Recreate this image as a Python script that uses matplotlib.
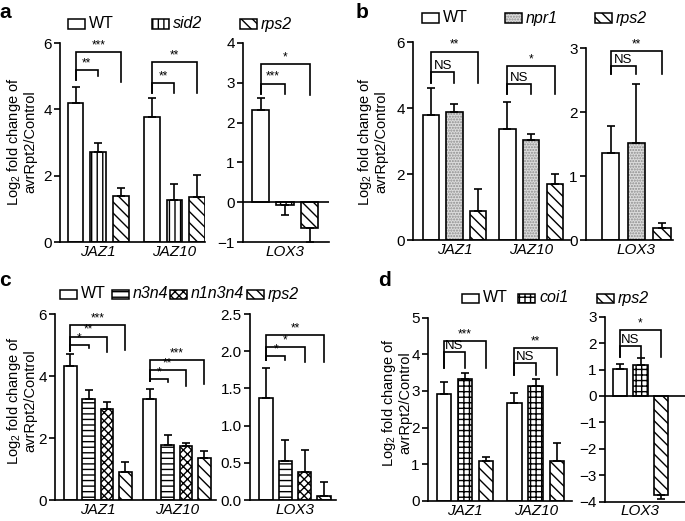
import matplotlib
matplotlib.use('Agg')
import matplotlib.pyplot as plt
from matplotlib.patches import Rectangle
import numpy as np

plt.rcParams['font.family'] = ['Liberation Sans', 'DejaVu Sans']
plt.rcParams['mathtext.fontset'] = 'custom'
plt.rcParams['mathtext.rm'] = 'Liberation Sans'
plt.rcParams['hatch.linewidth'] = 1.0
plt.rcParams['axes.linewidth'] = 1.2

W, H = 685, 521

# ---------------- data ----------------
jaz_genes = ['JAZ1', 'JAZ10']
lox_gene = ['LOX3']

# panel a
a_series = ['WT', 'sid2', 'rps2']
a_jaz_mean = [[4.20, 2.70, 1.40], [3.76, 1.27, 1.37]]
a_jaz_err = [[0.48, 0.28, 0.22], [0.59, 0.47, 0.64]]
a_lox_mean = [[2.32, -0.075, -0.64]]
a_lox_err = [[0.29, 0.235, 0.36]]
a_jaz_sig = [[(1, 5.18, 5.00, '**'), (2, 5.72, 4.82, '***')],
             [(1, 4.78, 4.48, '**'), (2, 5.42, 4.48, '**')]]
a_jaz_leg = [4.88, 4.48]
a_lox_sig = [[(1, 2.98, 2.71, '***'), (2, 3.46, 2.70, '*')]]
a_lox_leg = [2.71]

# panel b
b_series = ['WT', 'npr1', 'rps2']
b_jaz_mean = [[3.79, 3.89, 0.88], [3.35, 3.03, 1.70]]
b_jaz_err = [[0.83, 0.24, 0.67], [0.83, 0.17, 0.30]]
b_lox_mean = [[1.36, 1.52, 0.18]]
b_lox_err = [[0.42, 0.92, 0.08]]
b_jaz_sig = [[(1, 5.10, 4.77, 'NS'), (2, 5.71, 4.77, '**')],
             [(1, 4.73, 4.41, 'NS'), (2, 5.27, 4.41, '*')]]
b_jaz_leg = [4.77, 4.41]
b_lox_sig = [[(1, 2.72, 2.59, 'NS'), (2, 2.95, 2.59, '**')]]
b_lox_leg = [2.59]

# panel c
c_series = ['WT', 'n3n4', 'n1n3n4', 'rps2']
c_jaz_mean = [[4.31, 3.25, 2.93, 0.89], [3.27, 1.79, 1.73, 1.36]]
c_jaz_err = [[0.41, 0.31, 0.23, 0.34], [0.31, 0.32, 0.12, 0.22]]
c_lox_mean = [[1.37, 0.53, 0.375, 0.06]]
c_lox_err = [[0.40, 0.27, 0.295, 0.18]]
c_jaz_sig = [[(1, 5.00, 4.90, '*'), (2, 5.27, 4.77, '**'), (3, 5.63, 4.84, '***')],
             [(1, 3.89, 3.80, '*'), (2, 4.18, 3.67, '**'), (3, 4.52, 3.75, '***')]]
c_jaz_leg = [4.82, 3.83]
c_lox_sig = [[(1, 1.94, 1.88, '*'), (2, 2.06, 1.86, '*'), (3, 2.22, 1.85, '**')]]
c_lox_leg = [1.88]

# panel d
d_series = ['WT', 'coi1', 'rps2']
d_jaz_mean = [[2.91, 3.32, 1.09], [2.68, 3.12, 1.10]]
d_jaz_err = [[0.34, 0.16, 0.12], [0.26, 0.21, 0.49]]
d_lox_mean = [[1.01, 1.18, -3.75]]
d_lox_err = [[0.20, 0.25, 0.15]]
d_jaz_sig = [[(1, 4.05, 3.62, 'NS'), (2, 4.36, 3.62, '***')],
             [(1, 3.75, 3.44, 'NS'), (2, 4.16, 3.44, '**')]]
d_jaz_leg = [3.62, 3.44]
d_lox_sig = [[(1, 1.89, 1.49, 'NS'), (2, 2.50, 1.49, '*')]]
d_lox_leg = [1.49]

# ---------------- styles ----------------
styles = {
    'WT':     dict(face='white',   hatch=None,       hcol='black'),
    'sid2':   dict(face='white',   hatch='|||',      hcol='black'),
    'rps2':   dict(face='white',   hatch='\\\\\\',   hcol='black'),
    'npr1':   dict(face='#dcdcdc', hatch='......',   hcol='#8c8c8c'),
    'n3n4':   dict(face='white',   hatch='---',      hcol='black'),
    'n1n3n4': dict(face='white',   hatch='xxxx',     hcol='black'),
    'coi1':   dict(face='white',   hatch='+++',      hcol='black'),
}
italic_names = {'sid2', 'rps2', 'npr1', 'n3n4', 'n1n3n4', 'coi1'}

fig = plt.figure(figsize=(W / 100, H / 100), dpi=100)


def make_axes(x0, x1, ytop, ybot, ylim):
    ax = fig.add_axes([x0 / W, 1 - ybot / H, (x1 - x0) / W, (ybot - ytop) / H])
    ax.set_ylim(ylim[0], ylim[1])
    for s in ['top', 'right']:
        ax.spines[s].set_visible(False)
    ax.tick_params(axis='y', direction='out', length=4, width=1.2, labelsize=11, pad=2)
    ax.tick_params(axis='x', length=0, labelsize=11, pad=2)
    return ax


def draw_panel(ax, means, errs, series, cats, sigs, legs, geom, yticks, fmt=None, zero=False):
    x0, x1, c0, pitch, wpx, step = geom
    width = wpx / pitch
    ax.set_xlim((x0 - c0) / pitch, (x1 - c0) / pitch)
    means = np.asarray(means, float)
    errs = np.asarray(errs, float)
    ng, ns = means.shape
    for i, s in enumerate(series):
        xs = np.arange(ng) * step + i
        st = styles[s]
        ax.bar(xs, means[:, i], width, color=st['face'], edgecolor=st['hcol'],
               hatch=st['hatch'], linewidth=0, zorder=2)
        ax.bar(xs, means[:, i], width, fill=False, edgecolor='black', linewidth=1.2, zorder=3)
        lo = np.where(means[:, i] < 0, errs[:, i], 0)
        hi = np.where(means[:, i] >= 0, errs[:, i], 0)
        ax.errorbar(xs, means[:, i], yerr=[lo, hi], fmt='none', ecolor='black',
                    elinewidth=1.2, capsize=3, capthick=1.2, zorder=4, clip_on=False)
    if zero:
        ax.axhline(0, color='black', lw=1.2, zorder=5)
    centers = np.arange(ng) * step + (ns - 1) / 2
    ax.set_xticks(centers)
    ax.set_xticklabels(cats, fontstyle='italic')
    ax.set_yticks(yticks)
    if fmt:
        ax.set_yticklabels([fmt % v for v in yticks])
    for g, (blist, leg) in enumerate(zip(sigs, legs)):
        xl = g * step
        for (t, top, rend, lab) in blist:
            xr = g * step + t
            ax.plot([xl, xl, xr, xr], [leg, top, top, rend], color='black', lw=1.2,
                    clip_on=False, solid_joinstyle='miter', zorder=6)
            if lab == 'NS':
                ax.annotate(lab, ((xl + xr) / 2, top), xytext=(0, 0), textcoords='offset points',
                            ha='center', va='bottom', fontsize=9.5, annotation_clip=False)
            else:
                ax.annotate(lab, ((xl + xr) / 2, top), xytext=(0, 0.5), textcoords='offset points',
                            ha='center', va='bottom', fontsize=8.5, annotation_clip=False)


def legend(items, ypx, xs):
    for s, xp in zip(items, xs):
        st = styles[s]
        pw, ph = 17, 9
        r = Rectangle((xp / W, 1 - (ypx + ph / 2) / H), pw / W, ph / H, transform=fig.transFigure,
                      facecolor=st['face'], edgecolor=st['hcol'], hatch=st['hatch'], linewidth=0)
        fig.add_artist(r)
        r2 = Rectangle((xp / W, 1 - (ypx + ph / 2) / H), pw / W, ph / H, transform=fig.transFigure,
                       fill=False, edgecolor='black', linewidth=1.1)
        fig.add_artist(r2)
        fig.text((xp + pw + 4) / W, 1 - ypx / H, s, ha='left', va='center', fontsize=11.5,
                 fontstyle='italic' if s in italic_names else 'normal')


def ylab(xpx, ypx):
    fig.text(xpx / W, 1 - ypx / H, 'Log$_2$ fold change of\navrRpt2/Control', rotation=90,
             ha='center', va='center', fontsize=10.5, multialignment='center', linespacing=1.0)


def plabel(xpx, ypx, t):
    fig.text(xpx / W, 1 - ypx / H, t, ha='center', va='center', fontsize=15, fontweight='bold')


# ---------- panel a ----------
ax = make_axes(60, 205, 43, 242, (0, 6))
draw_panel(ax, a_jaz_mean, a_jaz_err, a_series, jaz_genes, a_jaz_sig, a_jaz_leg,
           (60, 205, 75.5, 22.7, 15.5, 3.36), [0, 2, 4, 6])
ax = make_axes(243, 329, 43, 242, (-1, 4))
draw_panel(ax, a_lox_mean, a_lox_err, a_series, lox_gene, a_lox_sig, a_lox_leg,
           (243, 329, 260.5, 24.5, 17.6, 3.3), [-1, 0, 1, 2, 3, 4], zero=True)
legend(a_series, 24, [68, 152, 240])
ylab(21, 142)
plabel(5, 12, 'a')

# ---------- panel b ----------
ax = make_axes(413, 570, 42, 240, (0, 6))
draw_panel(ax, b_jaz_mean, b_jaz_err, b_series, jaz_genes, b_jaz_sig, b_jaz_leg,
           (413, 570, 430.8, 23.7, 16.3, 3.23), [0, 2, 4, 6])
ax = make_axes(586, 673, 48, 240, (0, 3))
draw_panel(ax, b_lox_mean, b_lox_err, b_series, lox_gene, b_lox_sig, b_lox_leg,
           (586, 673, 610.5, 25.8, 17.6, 3.3), [0, 1, 2, 3])
legend(b_series, 18, [422, 505, 595])
ylab(372, 142)
plabel(362, 12, 'b')

# ---------- panel c ----------
ax = make_axes(55, 216, 314, 500, (0, 6))
draw_panel(ax, c_jaz_mean, c_jaz_err, c_series, jaz_genes, c_jaz_sig, c_jaz_leg,
           (55, 216, 70.3, 18.3, 12.7, 4.33), [0, 2, 4, 6])
ax = make_axes(250, 336, 314, 500, (0, 2.5))
draw_panel(ax, c_lox_mean, c_lox_err, c_series, lox_gene, c_lox_sig, c_lox_leg,
           (250, 336, 266, 19.3, 13.4, 4.33), [0, 0.5, 1.0, 1.5, 2.0, 2.5], fmt='%.1f')
legend(c_series, 294, [60, 112, 170, 247])
ylab(21, 401)
plabel(5, 280, 'c')

# ---------- panel d ----------
ax = make_axes(428, 572, 317.5, 501, (0, 5))
draw_panel(ax, d_jaz_mean, d_jaz_err, d_series, jaz_genes, d_jaz_sig, d_jaz_leg,
           (428, 572, 443.8, 21.2, 14.3, 3.33), [0, 1, 2, 3, 4, 5])
ax = make_axes(605, 685, 316.7, 501.7, (-4, 3))
draw_panel(ax, d_lox_mean, d_lox_err, d_series, lox_gene, d_lox_sig, d_lox_leg,
           (605, 685, 619.7, 20.8, 14.3, 3.3), [-4, -3, -2, -1, 0, 1, 2, 3], zero=True)
legend(d_series, 298, [462, 518, 597])
ylab(396, 403)
plabel(384, 280, 'd')

fig.savefig('out.png', dpi=100)
